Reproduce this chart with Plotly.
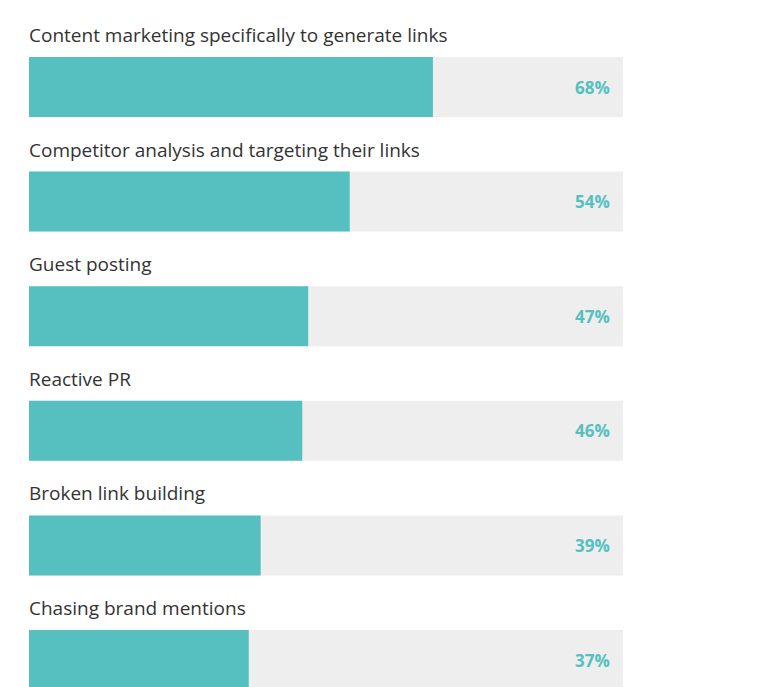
import plotly.graph_objects as go

categories = [
    "Content marketing specifically to generate links",
    "Competitor analysis and targeting their links",
    "Guest posting",
    "Reactive PR",
    "Broken link building",
    "Chasing brand mentions",
]
values = [68, 54, 47, 46, 39, 37]

TEAL = "#55C0BF"
GRAY = "#EEEEEE"
step = 114.6
pos = list(range(len(categories)))

fig = go.Figure()
fig.add_trace(go.Bar(x=[100] * len(pos), y=pos, orientation="h", marker=dict(color=GRAY, line=dict(width=0)),
                     width=60 / step, hoverinfo="skip", showlegend=False))
fig.add_trace(go.Bar(x=values, y=pos, orientation="h", marker=dict(color=TEAL, line=dict(width=0)),
                     width=60 / step, hovertext=categories, showlegend=False))

for i, (c, v) in enumerate(zip(categories, values)):
    fig.add_annotation(x=0, y=i - 52 / step, text=c, xanchor="left", yanchor="middle", showarrow=False,
                       xshift=-2, font=dict(family="Open Sans", size=19, color="#333333"), xref="x", yref="y")
    fig.add_annotation(x=100, y=i, text=f"<b>{v}%</b>", xanchor="right", yanchor="middle", showarrow=False,
                       xshift=-11, font=dict(family="Open Sans", size=17, color=TEAL), xref="x", yref="y")

fig.update_layout(
    width=757, height=687, margin=dict(l=29, r=134, t=0, b=0),
    barmode="overlay", plot_bgcolor="white", paper_bgcolor="white",
    xaxis=dict(range=[0, 100], visible=False, fixedrange=True),
    yaxis=dict(range=[(687 - 87) / step, -87 / step], visible=False, fixedrange=True),
)
fig.write_html("out.html")
